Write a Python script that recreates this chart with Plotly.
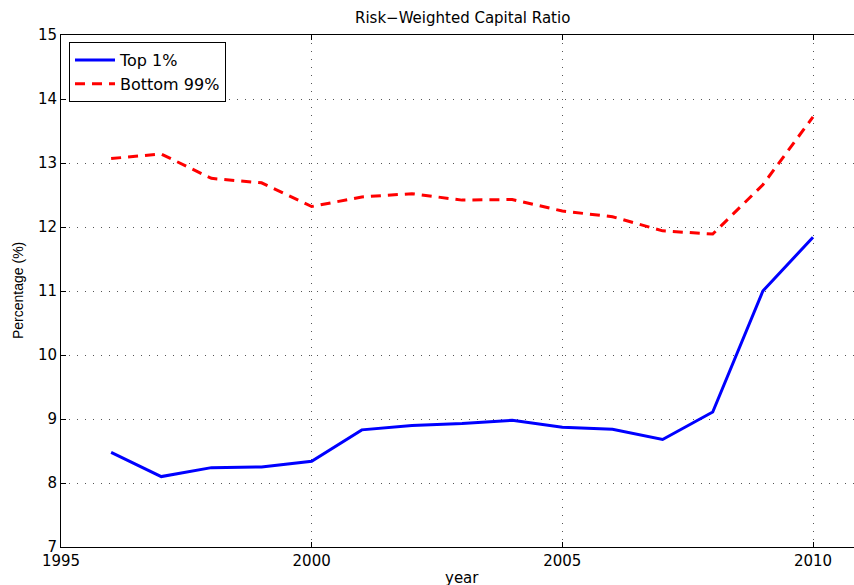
import plotly.graph_objects as go

years = [1996, 1997, 1998, 1999, 2000, 2001, 2002, 2003, 2004, 2005, 2006, 2007, 2008, 2009, 2010]
top1 = [8.48, 8.10, 8.24, 8.25, 8.34, 8.83, 8.90, 8.93, 8.98, 8.87, 8.84, 8.68, 9.11, 11.00, 11.84]
bottom99 = [13.07, 13.14, 12.76, 12.69, 12.32, 12.47, 12.52, 12.42, 12.43, 12.25, 12.16, 11.94, 11.89, 12.66, 13.72]
x_ticks = [1995, 2000, 2005, 2010]
y_ticks = [7, 8, 9, 10, 11, 12, 13, 14, 15]

W, H = 854, 585
L, R, T, B = 61, 0, 35, 38
pw = W - L - R
ph = H - T - B

wide = "DejaVu Sans, Verdana, sans-serif"
narrow = "Liberation Sans, Arial, Helvetica, sans-serif"

fig = go.Figure()
fig.add_trace(go.Scatter(x=years, y=top1, mode="lines", name="Top 1%",
                         line=dict(color="#0000ff", width=3)))
fig.add_trace(go.Scatter(x=years, y=bottom99, mode="lines", name="Bottom 99%",
                         line=dict(color="#ff0000", width=3, dash="10px,7px")))

x_right = 2010 + (W - 813) / ((813 - 61) / 15.0)

fig.update_layout(
    width=W, height=H,
    margin=dict(l=L, r=R, t=T, b=B, pad=0),
    paper_bgcolor="white", plot_bgcolor="white",
    font=dict(family=wide, size=15, color="black"),
    showlegend=True,
    legend=dict(x=(69 - L) / pw, y=1 - (42 - T) / ph, xanchor="left", yanchor="top",
                bordercolor="black", borderwidth=1, bgcolor="white",
                font=dict(family=wide, size=16), tracegroupgap=0, itemwidth=40),
    xaxis=dict(range=[1995, x_right], tickvals=x_ticks, ticks="inside", ticklen=5,
               tickcolor="black", showline=True, linecolor="black", linewidth=1,
               mirror="ticks", showgrid=True, gridcolor="#555555", griddash="1px,7px",
               gridwidth=1, zeroline=False, tickfont=dict(family=wide, size=15)),
    yaxis=dict(range=[7, 15], tickvals=y_ticks, ticks="inside", ticklen=5,
               tickcolor="black", showline=True, linecolor="black", linewidth=1,
               mirror=False, showgrid=True, gridcolor="#555555", griddash="1px,7px",
               gridwidth=1, zeroline=False, tickfont=dict(family=wide, size=15)),
    annotations=[
        dict(text="Risk\u2212Weighted Capital Ratio", xref="paper", yref="paper",
             x=(462 - L) / pw, y=1 + (T - 18) / ph, xanchor="center", yanchor="middle",
             showarrow=False, font=dict(family=wide, size=15)),
        dict(text="year", xref="paper", yref="paper",
             x=(462 - L) / pw, y=-(578 - (T + ph)) / ph, xanchor="center", yanchor="middle",
             showarrow=False, font=dict(family=wide, size=15)),
        dict(text="Percentage (%)", xref="paper", yref="paper", textangle=-90,
             x=(18 - L) / pw, y=0.5, xanchor="center", yanchor="middle",
             showarrow=False, font=dict(family=narrow, size=14)),
    ],
)

fig.write_html("out.html", config={"displayModeBar": False},
               post_script="document.body.style.margin='0';document.body.style.overflow='hidden';")
